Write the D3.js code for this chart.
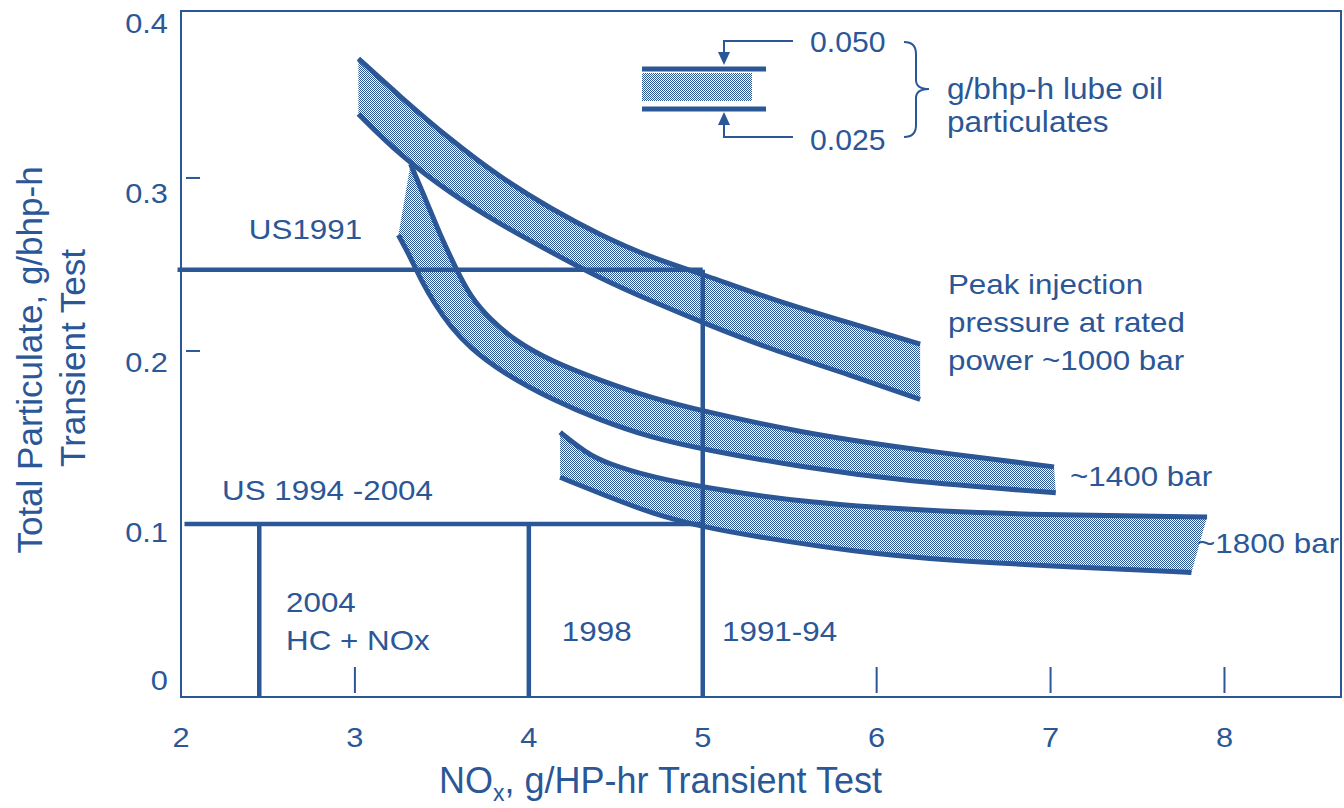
<!DOCTYPE html>
<html>
<head>
<meta charset="utf-8">
<script src="https://cdn.jsdelivr.net/npm/d3@7"></script>
<style>
  body { margin: 0; background: #fff; }
  text { font-family: "Liberation Sans", Arial, sans-serif; fill: #2b5797; }
</style>
</head>
<body>
<svg id="chart" width="1344" height="808"></svg>
<script>
const blue = '#2b5797';

// NOx (g/HP-hr) vs particulate (g/bhp-h)
const xTicks = [2, 3, 4, 5, 6, 7, 8];
const yTicks = [0, 0.1, 0.2, 0.3, 0.4];

const band1000Upper = [[3.02,0.369],[3.26,0.347],[3.55,0.322],[3.84,0.300],[4.13,0.282],[4.41,0.267],[4.70,0.254],[5.01,0.244],[5.39,0.230],[5.85,0.216],[6.25,0.204]];
const band1000Lower = [[3.02,0.337],[3.26,0.313],[3.55,0.291],[3.84,0.273],[4.13,0.257],[4.41,0.242],[4.70,0.229],[5.01,0.216],[5.39,0.201],[5.85,0.186],[6.25,0.172]];

const band1400Upper = [[3.32,0.308],[3.41,0.287],[3.49,0.267],[3.58,0.248],[3.66,0.232],[3.78,0.218],[3.92,0.206],[4.13,0.194],[4.41,0.183],[4.70,0.173],[5.01,0.165],[5.56,0.153],[6.14,0.144],[7.02,0.133]];
const band1400Lower = [[3.25,0.267],[3.32,0.254],[3.38,0.241],[3.46,0.227],[3.55,0.214],[3.66,0.202],[3.84,0.188],[4.13,0.172],[4.41,0.160],[4.70,0.150],[5.01,0.143],[5.56,0.133],[6.14,0.125],[7.03,0.118]];

const band1800Upper = [[4.18,0.153],[4.33,0.141],[4.45,0.135],[4.71,0.127],[5.01,0.121],[5.61,0.112],[6.38,0.107],[7.15,0.105],[7.90,0.104]];
const band1800Lower = [[4.18,0.127],[4.45,0.116],[4.71,0.106],[5.01,0.098],[5.35,0.092],[5.87,0.084],[6.38,0.079],[7.15,0.075],[7.81,0.072]];

// emission limits: [nox, pm]
const us1991 = [5.0, 0.247];
const us1994 = [5.0, 0.1];
const limitSteps = [2.45, 4.0];

const svg = d3.select('#chart');

const x = d3.scaleLinear().domain([2, 8.67]).range([181, 1341]);
const y = d3.scaleLinear().domain([0, 0.3965]).range([697, 11]);
// tick labels in the original sit a bit off the gridline positions
const yLabel = d3.scaleLinear().domain([0, 0.1, 0.4]).range([690, 542, 33]);

const defs = svg.append('defs');
const pat = defs.append('pattern')
  .attr('id', 'dots')
  .attr('width', 2).attr('height', 2)
  .attr('patternUnits', 'userSpaceOnUse');
pat.append('rect').attr('width', 2).attr('height', 2).attr('fill', '#fff');
pat.append('rect').attr('x', 0).attr('y', 0).attr('width', 1).attr('height', 1).attr('fill', blue);
pat.append('rect').attr('x', 1).attr('y', 1).attr('width', 1).attr('height', 1).attr('fill', blue);

function label(px, py, str, size, anchor = 'start', sx = 1) {
  return svg.append('text')
    .attr('transform', `translate(${px},${py}) scale(${sx},1)`)
    .attr('font-size', size)
    .attr('text-anchor', anchor)
    .text(str);
}

// frame
svg.append('rect')
  .attr('x', x(2)).attr('y', y(0.3965))
  .attr('width', x(8.67) - x(2)).attr('height', y(0) - y(0.3965))
  .attr('fill', 'none').attr('stroke', blue).attr('stroke-width', 2);

// inner ticks
svg.selectAll('.xt').data(xTicks.slice(1)).join('line')
  .attr('x1', d => x(d)).attr('x2', d => x(d))
  .attr('y1', y(0) - 30).attr('y2', y(0) - 4)
  .attr('stroke', blue).attr('stroke-width', 2);
svg.selectAll('.yt').data(yTicks.slice(1, 4)).join('line')
  .attr('x1', x(2) + 5).attr('x2', x(2) + 19)
  .attr('y1', d => y(d)).attr('y2', d => y(d))
  .attr('stroke', blue).attr('stroke-width', 2);

// tick labels
xTicks.forEach(v => label(x(v), 747, v, 28, 'middle', 1.1));
yTicks.forEach(v => label(168, yLabel(v), v === 0 ? '0' : v.toFixed(1), 28, 'end', 1.1));

// bands
const line = d3.line()
  .x(d => x(d[0])).y(d => y(d[1]))
  .curve(d3.curveBasis);

function band(upper, lower) {
  const top = line(upper);
  const bottom = line(lower.slice().reverse());
  svg.append('path')
    .attr('d', top + 'L' + bottom.slice(1) + 'Z')
    .attr('fill', 'url(#dots)');
  [upper, lower].forEach(pts => {
    svg.append('path')
      .attr('d', line(pts))
      .attr('fill', 'none')
      .attr('stroke', blue)
      .attr('stroke-width', 5);
  });
}
band(band1000Upper, band1000Lower);
band(band1400Upper, band1400Lower);
band(band1800Upper, band1800Lower);

// limit lines
const limit = (x1, y1, x2, y2) => svg.append('line')
  .attr('x1', x(x1)).attr('y1', y(y1)).attr('x2', x(x2)).attr('y2', y(y2))
  .attr('stroke', blue).attr('stroke-width', 4.5);
limit(1.98, us1991[1], us1991[0], us1991[1]);
limit(us1991[0], us1991[1], us1991[0], 0);
limit(2.02, us1994[1], us1994[0], us1994[1]);
limitSteps.forEach(v => limit(v, us1994[1], v, 0));

// annotations
const note = (nx, ny, str) => label(x(nx), y(ny), str, 28, 'start', 1.12);
note(2.39, 0.265, 'US1991');
note(2.236, 0.114, 'US 1994 -2004');
note(2.604, 0.049, '2004');
note(2.604, 0.0272, 'HC + NOx');
note(4.19, 0.0324, '1998');
note(5.111, 0.0324, '1991-94');
note(6.41, 0.233, 'Peak injection');
note(6.41, 0.211, 'pressure at rated');
note(6.41, 0.189, 'power ~1000 bar');
note(7.112, 0.122, '~1400 bar');
note(7.842, 0.0832, '~1800 bar');

// key for lube oil band width
const key = svg.append('g');
key.append('rect').attr('x', 642).attr('y', 73).attr('width', 110).attr('height', 28).attr('fill', 'url(#dots)');
[69, 109].forEach(yy => key.append('line')
  .attr('x1', 642).attr('x2', 766).attr('y1', yy).attr('y2', yy)
  .attr('stroke', blue).attr('stroke-width', 5));
key.append('path').attr('d', 'M793,41H724V54').attr('fill', 'none').attr('stroke', blue).attr('stroke-width', 2);
key.append('path').attr('d', 'M793,137H724V122').attr('fill', 'none').attr('stroke', blue).attr('stroke-width', 2);
key.append('path').attr('d', 'M718,52L730,52L724,65Z').attr('fill', blue);
key.append('path').attr('d', 'M718,125L730,125L724,112Z').attr('fill', blue);
key.append('path')
  .attr('d', 'M904,42Q916,42 916,54V80Q916,89 929,89Q916,89 916,98V125Q916,137 904,137')
  .attr('fill', 'none').attr('stroke', blue).attr('stroke-width', 2);
label(810, 52, '0.050', 29, 'start', 1.04);
label(810, 150, '0.025', 29, 'start', 1.04);
label(947, 99, 'g/bhp-h lube oil', 29, 'start', 1.09);
label(947, 132, 'particulates', 29, 'start', 1.09);

// axis titles
const xt = svg.append('text')
  .attr('x', 439).attr('y', 793)
  .attr('font-size', 36);
xt.append('tspan').text('NO');
xt.append('tspan').attr('font-size', 23).attr('dy', 8).text('x');
xt.append('tspan').attr('dy', -8).text(', g/HP-hr Transient Test');

svg.append('text')
  .attr('transform', 'translate(42,360) rotate(-90)')
  .attr('font-size', 35).attr('text-anchor', 'middle')
  .text('Total Particulate,  g/bhp-h');
svg.append('text')
  .attr('transform', 'translate(85,358) rotate(-90)')
  .attr('font-size', 35).attr('text-anchor', 'middle')
  .text('Transient Test');
</script>
</body>
</html>
